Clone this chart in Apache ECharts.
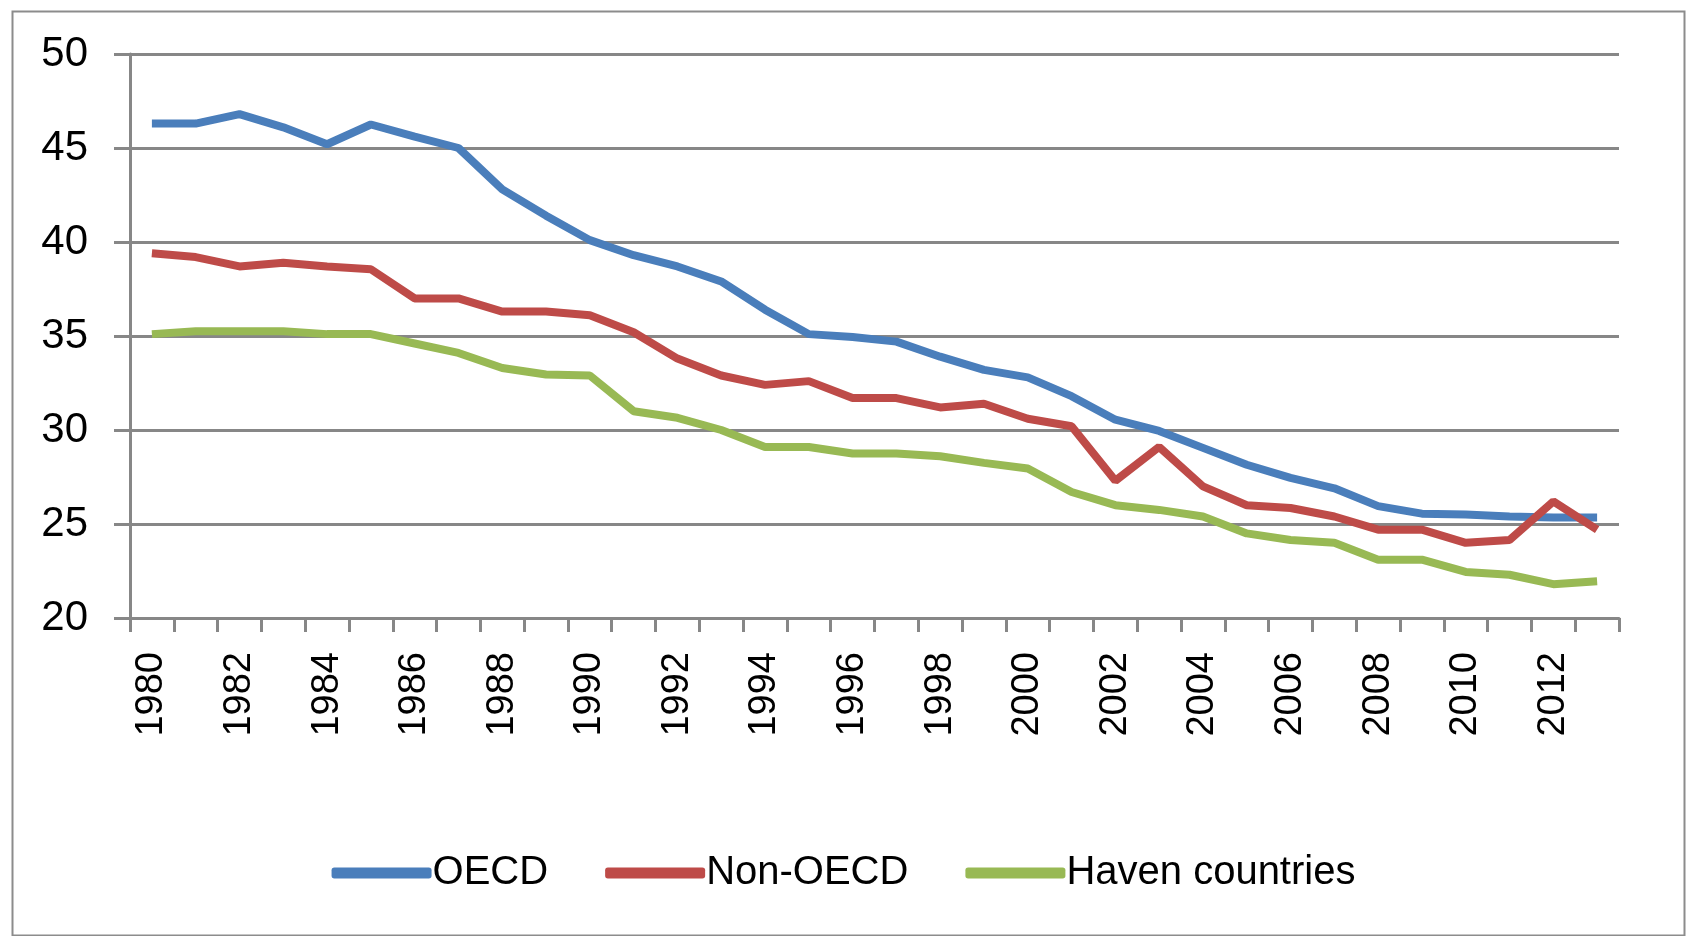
<!DOCTYPE html>
<html>
<head>
<meta charset="utf-8">
<script src="https://cdn.jsdelivr.net/npm/echarts@6/dist/echarts.min.js"></script>
<style>
html,body{margin:0;padding:0;background:#fff;}
#c{width:1687px;height:936px;}
</style>
</head>
<body>
<div id="c"></div>
<script>
const years = ['1980','1981','1982','1983','1984','1985','1986','1987','1988','1989','1990','1991','1992','1993','1994','1995','1996','1997','1998','1999','2000','2001','2002','2003','2004','2005','2006','2007','2008','2009','2010','2011','2012','2013'];
const oecd = [46.3,46.3,46.8,46.1,45.2,46.25,45.6,45.0,42.8,41.4,40.1,39.3,38.7,37.9,36.4,35.1,34.95,34.7,33.9,33.2,32.8,31.8,30.55,29.95,29.05,28.15,27.45,26.9,25.95,25.55,25.5,25.4,25.35,25.35];
const nonOecd = [39.4,39.2,38.7,38.9,38.7,38.55,37.0,37.0,36.3,36.3,36.1,35.2,33.8,32.9,32.4,32.6,31.7,31.7,31.2,31.4,30.6,30.2,27.3,29.1,27.0,26.0,25.85,25.4,24.7,24.7,24.0,24.15,26.2,24.7];
const haven = [35.1,35.25,35.25,35.25,35.1,35.1,34.6,34.1,33.3,32.95,32.9,31.0,30.65,30.0,29.1,29.1,28.75,28.75,28.6,28.25,27.95,26.7,26.0,25.75,25.4,24.5,24.15,24.0,23.1,23.1,22.45,22.3,21.8,21.95];
const seriesNames = ['OECD','Non-OECD','Haven countries'];
const colors = ['#4A7EBB','#BE4B48','#98B954'];

const chart = echarts.init(document.getElementById('c'), null, {renderer:'canvas'});
const gray = '#878787';
chart.setOption({
  animation:false,
  backgroundColor:'#fff',
  color: colors,
  graphic:[{
    type:'rect', left:10, top:9, z:-1,
    shape:{x:0,y:0,width:1672,height:924},
    style:{fill:'none', stroke:'#8c8c8c', lineWidth:2}
  }],
  grid:{left:130, right:68, top:54, bottom:318, containLabel:false},
  legend:{
    data: seriesNames,
    left:'center', top:848,
    icon:'roundRect', itemWidth:100, itemHeight:11, itemGap:57,
    textStyle:{fontFamily:'Liberation Sans, Arial, sans-serif', fontSize:40, color:'#000', padding:[0,0,0,-4]}
  },
  xAxis:{
    type:'category', data: years, boundaryGap:true,
    axisLine:{lineStyle:{color:gray, width:3}},
    axisTick:{show:true, interval:0, length:14, lineStyle:{color:gray, width:3}},
    axisLabel:{interval:1, rotate:90, margin:34, fontFamily:'Liberation Sans, Arial, sans-serif', fontSize:38, color:'#000'},
    splitLine:{show:false}
  },
  yAxis:{
    type:'value', min:20, max:50, interval:5,
    axisLine:{show:true, lineStyle:{color:gray, width:3}},
    axisTick:{show:true, length:16, lineStyle:{color:gray, width:3}},
    axisLabel:{margin:42, fontFamily:'Liberation Sans, Arial, sans-serif', fontSize:42, color:'#000'},
    splitLine:{show:true, lineStyle:{color:gray, width:3}}
  },
  series:[
    {name:seriesNames[0], type:'line', data:oecd, symbol:'none', lineStyle:{width:8, color:colors[0]}, itemStyle:{color:colors[0]}, z:3},
    {name:seriesNames[1], type:'line', data:nonOecd, symbol:'none', lineStyle:{width:8, color:colors[1]}, itemStyle:{color:colors[1]}, z:4},
    {name:seriesNames[2], type:'line', data:haven, symbol:'none', lineStyle:{width:8, color:colors[2]}, itemStyle:{color:colors[2]}, z:2}
  ]
});
</script>
</body>
</html>
